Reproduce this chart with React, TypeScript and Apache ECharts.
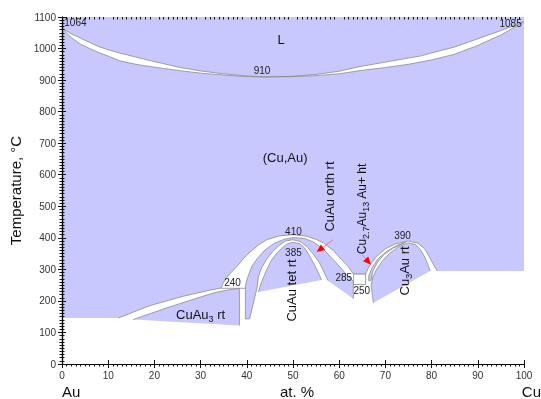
import React, { useEffect, useRef } from "react";
import * as echarts from "echarts";

type P = [number, number];

const FONT = "'Liberation Sans', Arial, Helvetica, sans-serif";
const BLUE = "#c8c8ff";
const LINE = "#8c8c8c";

// Liquidus and solidus (at.% Cu, °C)
const liquidus: P[] = [
  [0, 1064], [2, 1047], [4, 1033], [6, 1019], [8, 1006], [10, 996], [12.5, 986], [16, 973],
  [19, 962], [22, 952], [25.5, 940], [30, 929], [35, 920], [40, 913], [44, 910], [50, 912],
  [55, 918], [60, 928], [64.5, 943], [70, 957], [75, 970], [77.5, 976], [80, 986], [85, 1005],
  [90, 1031], [95, 1057], [100, 1085],
];
const solidus: P[] = [
  [0, 1064], [2, 1035], [4, 1014], [6, 1000], [8, 987], [10, 976], [12.5, 961], [16, 950],
  [19, 943], [22, 937], [25.5, 930], [30, 922], [35, 916], [40, 911], [44, 910], [50, 911],
  [55, 914], [60, 920], [64.5, 930], [70, 940], [75, 950], [77.5, 957], [80, 964], [85, 982],
  [90, 1010], [95, 1043], [100, 1085],
];

// Single-phase (Cu,Au) + L field; boundary chain first, then closing corners
const mainRegion: P[] = [
  [81.2, 295], [80.3, 318], [79.5, 340], [78.5, 365], [77, 383], [75, 390], [72, 380], [70, 365],
  [68, 340], [66.5, 310], [65.7, 285], [63.1, 285], [62, 308], [60.5, 331], [58.7, 360],
  [56.6, 384], [55, 395], [53, 405], [50, 410], [47, 406], [44.3, 394], [42.5, 377], [40.7, 355],
  [39.2, 333], [37.8, 308], [36.6, 290], [35.6, 273], [34.8, 255], [34.5, 241], [32, 234],
  [26.3, 215], [19, 185], [12.2, 146],
  [0, 146], [0, 1100], [100, 1100], [100, 295],
];
const cuAu3Region: P[] = [
  [15.4, 141], [22.7, 178], [29.9, 212], [33, 226], [35.6, 234], [38.4, 239.5], [38.4, 122],
];
const cuAuOrthRegion: P[] = [
  [57.6, 264], [56.6, 295], [55.7, 322], [54.3, 350], [53, 372], [51.6, 388], [50, 394],
  [48.4, 390], [47, 376], [45.5, 355], [44.2, 330], [43.2, 305], [42.5, 275], [42.2, 240],
  [42.0, 228], [40.6, 143],
  [39.7, 143], [39.7, 250], [40.2, 275], [41.1, 310], [42.3, 335], [44, 362], [46, 383],
  [48, 395], [50, 401], [52.5, 398], [54.5, 386], [56.5, 365], [58.7, 331], [60.3, 305],
  [61.6, 284], [63.05, 262], [63.05, 207],
];
const cuAuTetRegion: P[] = [
  [42.5, 228], [43.2, 260], [44.3, 299], [45.3, 328], [46.5, 352], [48.6, 380], [50, 386],
  [51.5, 381], [52.5, 368], [53.5, 345], [54.4, 321], [55.3, 295], [56.2, 266],
];
const cu27Au13Region: P[] = [
  [66.4, 265], [66.4, 280], [67.1, 305], [68.5, 335], [70.4, 358], [72.4, 375], [74.4, 386],
  [73.5, 380], [71.5, 366], [69.6, 346], [68.2, 320], [67.3, 295], [66.9, 265],
];
const cu3AuRegion: P[] = [
  [67.4, 194], [66.9, 250], [67.3, 275], [68.1, 300], [69.4, 328], [71, 352], [73, 373],
  [75, 384], [76.6, 378], [77.7, 360], [78.6, 337], [79.2, 315], [79.7, 295],
];
const box285: P[] = [[63.1, 252], [65.7, 252], [65.7, 285], [63.1, 285]];
const line240: P[] = [[34.5, 240], [39.7, 240]];

// Temperature annotations
const tempLabels = [
  { text: "1064", x: 2.9, y: 1082 },
  { text: "1085", x: 97.1, y: 1079 },
  { text: "910", x: 43.3, y: 930 },
  { text: "240", x: 36.9, y: 259 },
  { text: "410", x: 50.1, y: 421 },
  { text: "385", x: 50.1, y: 352 },
  { text: "285", x: 61.0, y: 273 },
  { text: "250", x: 64.9, y: 234 },
  { text: "390", x: 73.7, y: 407 },
];
// Phase names
const phaseLabels = [
  { text: "L", x: 47.4, y: 1028, vertical: false, size: 13 },
  { text: "(Cu,Au)", x: 48.3, y: 654, vertical: false, size: 13 },
  { text: "CuAu orth rt", x: 57.8, y: 531, vertical: true, size: 13 },
  { text: "Cu{s|2.7}Au{s|13} Au+ ht", x: 64.9, y: 492, vertical: true, size: 12 },
  { text: "CuAu tet rt", x: 49.6, y: 233, vertical: true, size: 13 },
  { text: "Cu{s|3}Au rt", x: 74.2, y: 295, vertical: true, size: 13 },
  { text: "CuAu{s|3} rt", x: 30, y: 157, vertical: false, size: 13 },
];
const arrows: { from: P; to: P }[] = [
  { from: [58.7, 394], to: [55.1, 355] },
  { from: [65.0, 345], to: [66.9, 315] },
];

export default function App() {
  const ref = useRef<HTMLDivElement>(null);
  useEffect(() => {
    const chart = echarts.init(ref.current!, null, { renderer: "svg" });
    const regions = [
      { pts: mainRegion, fill: BLUE, chain: mainRegion.slice(0, mainRegion.length - 4), closed: false },
      { pts: [...liquidus, ...[...solidus].reverse()], fill: "#ffffff", chain: null, closed: true },
      { pts: cuAu3Region, fill: BLUE, chain: null, closed: false },
      { pts: cuAuOrthRegion, fill: BLUE, chain: null, closed: false },
      { pts: cuAuTetRegion, fill: BLUE, chain: null, closed: false },
      { pts: cu27Au13Region, fill: BLUE, chain: null, closed: true },
      { pts: cu3AuRegion, fill: BLUE, chain: null, closed: false },
      { pts: box285, fill: "#ffffff", chain: null, closed: true },
      { pts: line240, fill: "none", chain: null, closed: false },
    ];
    const rich = {
      s: { fontSize: 9, fontFamily: FONT, fill: "#111", verticalAlign: "bottom", lineHeight: 9 },
    };
    const tickColor = "#111";
    const baseX = { type: "value", min: 0, max: 100, interval: 10, z: 10, splitLine: { show: false } };
    const baseY = { type: "value", min: 0, max: 1100, interval: 100, z: 10, splitLine: { show: false } };
    const plain = (v: number) => String(v);
    const option: any = {
      animation: false,
      grid: { left: 62, right: 17, top: 17, bottom: 35, containLabel: false, outerBoundsMode: "none" },
      graphic: [
        {
          type: "text", right: 0, top: 384,
          style: { text: "Cu", fontSize: 15, fontFamily: FONT, fill: "#111" },
        },
      ],
      xAxis: [
        {
          ...baseX, position: "bottom",
          axisLine: { show: true, lineStyle: { color: "#000", width: 1.2 } },
          axisTick: { show: true, length: 4, lineStyle: { color: tickColor } },
          minorTick: { show: true, splitNumber: 10, length: 2.5, lineStyle: { color: tickColor } },
          axisLabel: { fontSize: 10, color: "#333", margin: 6, fontFamily: FONT, formatter: plain },
        },
        {
          ...baseX, position: "bottom",
          axisLine: { show: false }, axisTick: { show: false },
          axisLabel: {
            fontSize: 15, color: "#111", margin: 20, fontFamily: FONT, align: "left",
            formatter: (v: number) => (v === 0 ? "Au" : ""),
          },
        },
        {
          ...baseX, position: "bottom",
          axisLine: { show: false }, axisTick: { show: false }, axisLabel: { show: false },
          name: "at. %", nameLocation: "middle", nameGap: 20,
          nameTextStyle: { fontSize: 15, color: "#111", fontFamily: FONT, padding: [0, 0, 0, 8] },
        },
        {
          ...baseX, position: "top",
          axisLine: { show: true, lineStyle: { color: "#000", width: 1.2 } },
          axisTick: { show: true, length: 4, lineStyle: { color: tickColor } },
          axisLabel: { show: false },
        },
        {
          ...baseX, position: "top",
          axisLine: { show: false },
          axisTick: { show: false, inside: true },
          minorTick: { show: true, splitNumber: 10, length: 2.5, lineStyle: { color: tickColor } },
          axisLabel: { show: false },
        },
      ],
      yAxis: [
        {
          ...baseY, position: "left",
          axisLine: { show: true, lineStyle: { color: "#000", width: 1.2 } },
          axisTick: { show: true, length: 4, lineStyle: { color: tickColor } },
          axisLabel: { fontSize: 10, color: "#333", margin: 6, fontFamily: FONT, formatter: plain },
          name: "Temperature, °C", nameLocation: "middle", nameGap: 38,
          nameTextStyle: { fontSize: 15, color: "#111", fontFamily: FONT },
        },
        {
          ...baseY, position: "left",
          axisLine: { show: false },
          axisTick: { show: false, inside: true },
          minorTick: { show: true, splitNumber: 10, length: 2.5, lineStyle: { color: tickColor } },
          axisLabel: { show: false },
        },
        {
          ...baseY, position: "right",
          axisLine: { show: true, lineStyle: { color: "#000", width: 1.2 } },
          axisTick: { show: true, length: 4, lineStyle: { color: tickColor } },
          axisLabel: { show: false },
        },
        {
          ...baseY, position: "right",
          axisLine: { show: false },
          axisTick: { show: false, inside: true },
          minorTick: { show: true, splitNumber: 10, length: 2.5, lineStyle: { color: tickColor } },
          axisLabel: { show: false },
        },
      ],
      series: [
        {
          type: "custom", name: "regions", clip: true, silent: true,
          data: regions.map(() => [0, 0]),
          renderItem: (params: any, api: any) => {
            const r = regions[params.dataIndex];
            const pts = r.pts.map((p) => api.coord(p));
            const chain = (r.chain || r.pts).map((p) => api.coord(p));
            const children: any[] = [];
            if (r.fill !== "none") {
              children.push({ type: "polygon", shape: { points: pts }, style: { fill: r.fill, stroke: null } });
            }
            children.push({
              type: r.closed ? "polygon" : "polyline",
              shape: { points: chain },
              style: { fill: null, stroke: LINE, lineWidth: 0.8 },
            });
            return { type: "group", children };
          },
        },
        {
          type: "custom", name: "arrows", silent: true,
          data: arrows.map(() => [0, 0]),
          renderItem: (params: any, api: any) => {
            const a = arrows[params.dataIndex];
            const f = api.coord(a.from);
            const t = api.coord(a.to);
            const dx = t[0] - f[0], dy = t[1] - f[1];
            const len = Math.hypot(dx, dy) || 1;
            const ux = dx / len, uy = dy / len;
            const L = 8, W = 3.5;
            const bx = t[0] - ux * L, by = t[1] - uy * L;
            return {
              type: "group",
              children: [
                { type: "line", shape: { x1: f[0], y1: f[1], x2: bx, y2: by }, style: { stroke: "#ff6060", lineWidth: 0.8 } },
                {
                  type: "polygon",
                  shape: { points: [[t[0], t[1]], [bx - uy * W, by + ux * W], [bx + uy * W, by - ux * W]] },
                  style: { fill: "#ff0000" },
                },
              ],
            };
          },
        },
        {
          type: "custom", name: "temps", silent: true,
          data: tempLabels.map((t) => [t.x, t.y]),
          renderItem: (params: any, api: any) => {
            const t = tempLabels[params.dataIndex];
            const c = api.coord([t.x, t.y]);
            return {
              type: "text", x: c[0], y: c[1],
              style: { text: t.text, fontSize: 10, fontFamily: FONT, fill: "#222", align: "center", verticalAlign: "middle" },
            };
          },
        },
        {
          type: "custom", name: "phases", silent: true,
          data: phaseLabels.map((t) => [t.x, t.y]),
          renderItem: (params: any, api: any) => {
            const t = phaseLabels[params.dataIndex];
            const c = api.coord([t.x, t.y]);
            return {
              type: "text", x: c[0], y: c[1], rotation: t.vertical ? Math.PI / 2 : 0,
              style: {
                text: t.text, fontSize: t.size, fontFamily: FONT, fill: "#111",
                align: "center", verticalAlign: "middle", lineHeight: 18, rich,
              },
            };
          },
        },
      ],
    };
    chart.setOption(option);
    return () => chart.dispose();
  }, []);
  return <div ref={ref} style={{ position: "fixed", left: 0, top: 0, width: 541, height: 399 }} />;
}
